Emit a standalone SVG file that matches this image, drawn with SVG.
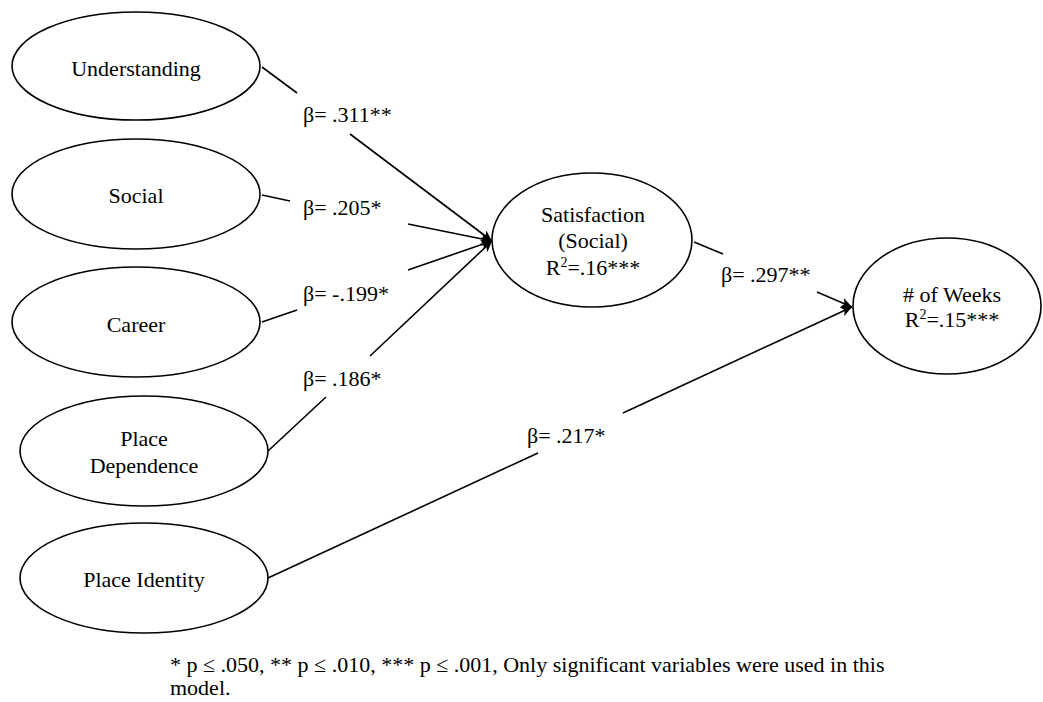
<svg xmlns="http://www.w3.org/2000/svg" width="1043" height="702" viewBox="0 0 1043 702">
<style>
.node ellipse{fill:#fff;stroke:#000;stroke-width:1.6}
text{font-family:"Liberation Serif","Times New Roman",serif;font-size:22px;fill:#000}
.c{text-anchor:middle}
.conn line{stroke:#000;stroke-width:1.6}
</style>
<defs>
<marker id="ah" markerUnits="userSpaceOnUse" markerWidth="12" markerHeight="10" refX="11" refY="5" orient="auto">
<path d="M0,0 L11,5 L0,10 L3,5 z" fill="#000"/>
</marker>
</defs>
<rect width="1043" height="702" fill="#fff"/>
<g id="connectors" class="conn">
<line x1="262" y1="67" x2="297" y2="93"/>
<line x1="350" y1="134" x2="492" y2="241" marker-end="url(#ah)"/>
<line x1="262" y1="195" x2="290" y2="201"/>
<line x1="408" y1="224" x2="492" y2="241" marker-end="url(#ah)"/>
<line x1="262" y1="322" x2="297" y2="310"/>
<line x1="408" y1="270" x2="492" y2="241" marker-end="url(#ah)"/>
<line x1="268" y1="451" x2="326" y2="397"/>
<line x1="370" y1="356" x2="492" y2="241" marker-end="url(#ah)"/>
<line x1="694" y1="242" x2="723" y2="254"/>
<line x1="817" y1="292" x2="852" y2="307" marker-end="url(#ah)"/>
<line x1="268" y1="578" x2="538" y2="453"/>
<line x1="623" y1="413" x2="852" y2="307" marker-end="url(#ah)"/>
<text x="303" y="122">β= .311**</text>
<text x="303" y="215">β= .205*</text>
<text x="303" y="301">β= -.199*</text>
<text x="303" y="386">β= .186*</text>
<text x="721" y="282">β= .297**</text>
<text x="527" y="443">β= .217*</text>
</g>
<g id="understanding" class="node"><ellipse cx="136" cy="66" rx="124" ry="54"/><text class="c" x="136" y="76">Understanding</text></g>
<g id="social" class="node"><ellipse cx="136" cy="194" rx="124" ry="55"/><text class="c" x="136" y="203">Social</text></g>
<g id="career" class="node"><ellipse cx="136" cy="322" rx="124" ry="55"/><text class="c" x="136" y="332">Career</text></g>
<g id="place-dependence" class="node"><ellipse cx="144" cy="451" rx="124" ry="55"/><text class="c" x="144" y="446">Place</text><text class="c" x="144" y="473">Dependence</text></g>
<g id="place-identity" class="node"><ellipse cx="144" cy="578" rx="124" ry="55"/><text class="c" x="144" y="587">Place Identity</text></g>
<g id="satisfaction" class="node"><ellipse cx="592" cy="240" rx="100" ry="67"/><text class="c" x="593" y="222">Satisfaction</text><text class="c" x="593" y="248">(Social)</text><text class="c" x="593" y="275">R<tspan font-size="14" dy="-8">2</tspan><tspan dy="8">=.16***</tspan></text></g>
<g id="weeks" class="node"><ellipse cx="947" cy="306" rx="94" ry="68"/><text class="c" x="952" y="302"># of Weeks</text><text class="c" x="952" y="327">R<tspan font-size="14" dy="-8">2</tspan><tspan dy="8">=.15***</tspan></text></g>
<g id="footnote" font-size="22.3"><text x="170" y="672" font-size="22.3">* p ≤ .050, ** p ≤ .010, *** p ≤ .001, Only significant variables were used in this</text><text x="170" y="695" font-size="22.3">model.</text></g>
</svg>
